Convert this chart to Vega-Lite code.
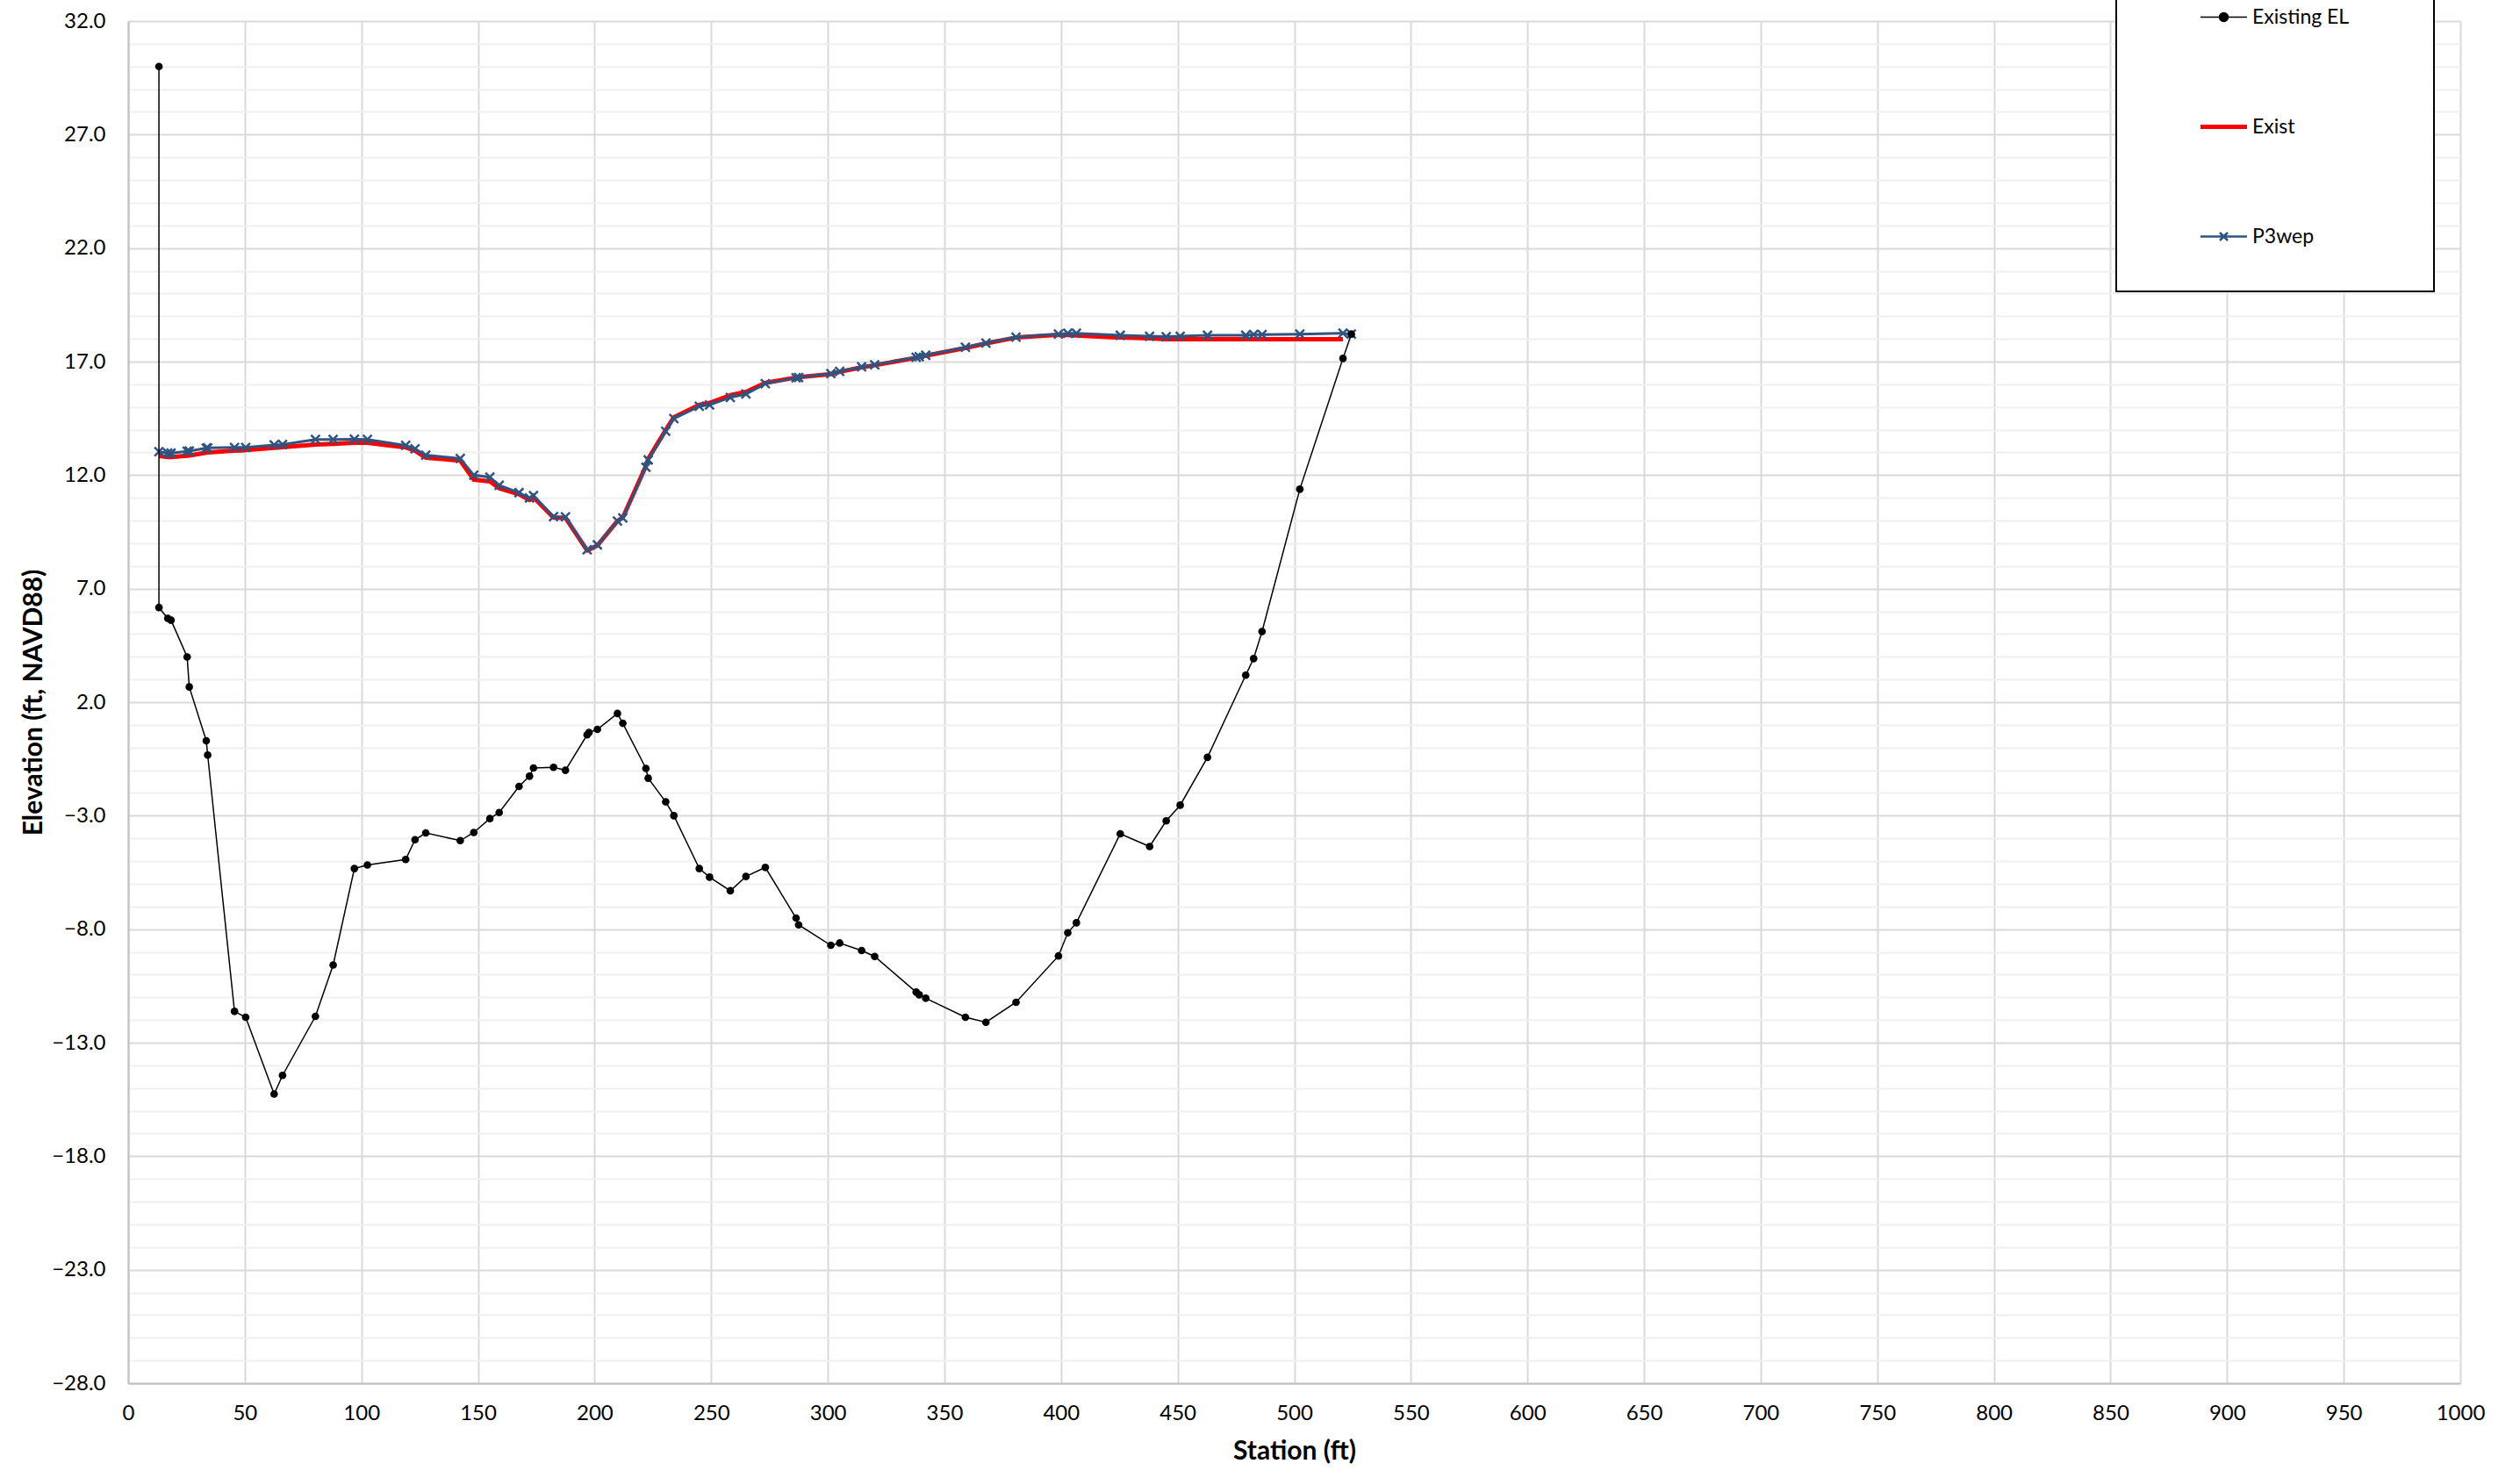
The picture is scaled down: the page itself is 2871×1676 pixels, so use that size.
{
  "$schema": "https://vega.github.io/schema/vega-lite/v6.json",
  "width": 2657,
  "height": 1552,
  "autosize": {"type": "none"},
  "padding": {"left": 146, "top": 24, "right": 68, "bottom": 100},
  "background": "white",
  "config": {"view": {"stroke": null}, "font": "Lato"},
  "datasets": {
    "el": [
      {"series": "Existing EL", "seq": 0, "station": 13.2, "elev": 30.0},
      {"series": "Existing EL", "seq": 1, "station": 13.2, "elev": 6.17},
      {"series": "Existing EL", "seq": 2, "station": 17.0, "elev": 5.69},
      {"series": "Existing EL", "seq": 3, "station": 18.4, "elev": 5.61},
      {"series": "Existing EL", "seq": 4, "station": 25.3, "elev": 3.99},
      {"series": "Existing EL", "seq": 5, "station": 26.2, "elev": 2.67},
      {"series": "Existing EL", "seq": 6, "station": 33.5, "elev": 0.30},
      {"series": "Existing EL", "seq": 7, "station": 34.1, "elev": -0.33},
      {"series": "Existing EL", "seq": 8, "station": 45.6, "elev": -11.62},
      {"series": "Existing EL", "seq": 9, "station": 50.4, "elev": -11.88},
      {"series": "Existing EL", "seq": 10, "station": 62.6, "elev": -15.26},
      {"series": "Existing EL", "seq": 11, "station": 66.2, "elev": -14.44},
      {"series": "Existing EL", "seq": 12, "station": 80.3, "elev": -11.84},
      {"series": "Existing EL", "seq": 13, "station": 87.9, "elev": -9.58},
      {"series": "Existing EL", "seq": 14, "station": 97.0, "elev": -5.33},
      {"series": "Existing EL", "seq": 15, "station": 102.6, "elev": -5.17},
      {"series": "Existing EL", "seq": 16, "station": 119.0, "elev": -4.93},
      {"series": "Existing EL", "seq": 17, "station": 123.0, "elev": -4.06},
      {"series": "Existing EL", "seq": 18, "station": 127.6, "elev": -3.76},
      {"series": "Existing EL", "seq": 19, "station": 142.4, "elev": -4.10},
      {"series": "Existing EL", "seq": 20, "station": 148.2, "elev": -3.74},
      {"series": "Existing EL", "seq": 21, "station": 155.1, "elev": -3.13},
      {"series": "Existing EL", "seq": 22, "station": 159.1, "elev": -2.86},
      {"series": "Existing EL", "seq": 23, "station": 167.6, "elev": -1.71},
      {"series": "Existing EL", "seq": 24, "station": 172.1, "elev": -1.26},
      {"series": "Existing EL", "seq": 25, "station": 173.8, "elev": -0.90},
      {"series": "Existing EL", "seq": 26, "station": 182.4, "elev": -0.87},
      {"series": "Existing EL", "seq": 27, "station": 187.5, "elev": -1.0},
      {"series": "Existing EL", "seq": 28, "station": 196.8, "elev": 0.56},
      {"series": "Existing EL", "seq": 29, "station": 197.6, "elev": 0.66},
      {"series": "Existing EL", "seq": 30, "station": 201.2, "elev": 0.80},
      {"series": "Existing EL", "seq": 31, "station": 209.8, "elev": 1.50},
      {"series": "Existing EL", "seq": 32, "station": 212.1, "elev": 1.07},
      {"series": "Existing EL", "seq": 33, "station": 222.0, "elev": -0.92},
      {"series": "Existing EL", "seq": 34, "station": 223.0, "elev": -1.35},
      {"series": "Existing EL", "seq": 35, "station": 230.5, "elev": -2.39},
      {"series": "Existing EL", "seq": 36, "station": 234.0, "elev": -3.0},
      {"series": "Existing EL", "seq": 37, "station": 244.9, "elev": -5.33},
      {"series": "Existing EL", "seq": 38, "station": 249.3, "elev": -5.71},
      {"series": "Existing EL", "seq": 39, "station": 258.2, "elev": -6.31},
      {"series": "Existing EL", "seq": 40, "station": 264.9, "elev": -5.68},
      {"series": "Existing EL", "seq": 41, "station": 273.2, "elev": -5.28},
      {"series": "Existing EL", "seq": 42, "station": 286.4, "elev": -7.51},
      {"series": "Existing EL", "seq": 43, "station": 287.5, "elev": -7.81},
      {"series": "Existing EL", "seq": 44, "station": 301.3, "elev": -8.71},
      {"series": "Existing EL", "seq": 45, "station": 305.1, "elev": -8.61},
      {"series": "Existing EL", "seq": 46, "station": 314.5, "elev": -8.94},
      {"series": "Existing EL", "seq": 47, "station": 320.1, "elev": -9.20},
      {"series": "Existing EL", "seq": 48, "station": 337.9, "elev": -10.77},
      {"series": "Existing EL", "seq": 49, "station": 339.2, "elev": -10.89},
      {"series": "Existing EL", "seq": 50, "station": 342.0, "elev": -11.04},
      {"series": "Existing EL", "seq": 51, "station": 359.0, "elev": -11.88},
      {"series": "Existing EL", "seq": 52, "station": 367.8, "elev": -12.10},
      {"series": "Existing EL", "seq": 53, "station": 380.7, "elev": -11.22},
      {"series": "Existing EL", "seq": 54, "station": 398.9, "elev": -9.18},
      {"series": "Existing EL", "seq": 55, "station": 402.9, "elev": -8.16},
      {"series": "Existing EL", "seq": 56, "station": 406.6, "elev": -7.72},
      {"series": "Existing EL", "seq": 57, "station": 425.4, "elev": -3.80},
      {"series": "Existing EL", "seq": 58, "station": 438.0, "elev": -4.36},
      {"series": "Existing EL", "seq": 59, "station": 445.1, "elev": -3.23},
      {"series": "Existing EL", "seq": 60, "station": 451.1, "elev": -2.54},
      {"series": "Existing EL", "seq": 61, "station": 462.8, "elev": -0.43},
      {"series": "Existing EL", "seq": 62, "station": 479.2, "elev": 3.19},
      {"series": "Existing EL", "seq": 63, "station": 482.6, "elev": 3.92},
      {"series": "Existing EL", "seq": 64, "station": 486.2, "elev": 5.11},
      {"series": "Existing EL", "seq": 65, "station": 502.4, "elev": 11.38},
      {"series": "Existing EL", "seq": 66, "station": 520.9, "elev": 17.14},
      {"series": "Existing EL", "seq": 67, "station": 524.5, "elev": 18.21}
    ],
    "p3": [
      {"series": "P3wep", "station": 13.2, "elev": 13.03},
      {"series": "P3wep", "station": 17.0, "elev": 12.97},
      {"series": "P3wep", "station": 18.4, "elev": 12.97},
      {"series": "P3wep", "station": 25.3, "elev": 13.05},
      {"series": "P3wep", "station": 26.2, "elev": 13.06},
      {"series": "P3wep", "station": 33.5, "elev": 13.19},
      {"series": "P3wep", "station": 34.1, "elev": 13.2},
      {"series": "P3wep", "station": 45.6, "elev": 13.22},
      {"series": "P3wep", "station": 50.4, "elev": 13.22},
      {"series": "P3wep", "station": 62.6, "elev": 13.33},
      {"series": "P3wep", "station": 66.2, "elev": 13.35},
      {"series": "P3wep", "station": 80.3, "elev": 13.57},
      {"series": "P3wep", "station": 87.9, "elev": 13.57},
      {"series": "P3wep", "station": 97.0, "elev": 13.58},
      {"series": "P3wep", "station": 102.6, "elev": 13.57},
      {"series": "P3wep", "station": 119.0, "elev": 13.31},
      {"series": "P3wep", "station": 123.0, "elev": 13.16},
      {"series": "P3wep", "station": 127.6, "elev": 12.88},
      {"series": "P3wep", "station": 142.4, "elev": 12.73},
      {"series": "P3wep", "station": 148.2, "elev": 12.0},
      {"series": "P3wep", "station": 155.1, "elev": 11.91},
      {"series": "P3wep", "station": 159.1, "elev": 11.55},
      {"series": "P3wep", "station": 167.6, "elev": 11.23},
      {"series": "P3wep", "station": 172.1, "elev": 10.99},
      {"series": "P3wep", "station": 173.8, "elev": 11.1},
      {"series": "P3wep", "station": 182.4, "elev": 10.17},
      {"series": "P3wep", "station": 187.5, "elev": 10.16},
      {"series": "P3wep", "station": 196.8, "elev": 8.71},
      {"series": "P3wep", "station": 201.2, "elev": 8.93},
      {"series": "P3wep", "station": 209.8, "elev": 9.98},
      {"series": "P3wep", "station": 212.1, "elev": 10.11},
      {"series": "P3wep", "station": 222.0, "elev": 12.35},
      {"series": "P3wep", "station": 223.0, "elev": 12.67},
      {"series": "P3wep", "station": 230.5, "elev": 13.93},
      {"series": "P3wep", "station": 234.0, "elev": 14.49},
      {"series": "P3wep", "station": 244.9, "elev": 15.03},
      {"series": "P3wep", "station": 249.3, "elev": 15.09},
      {"series": "P3wep", "station": 258.2, "elev": 15.42},
      {"series": "P3wep", "station": 264.9, "elev": 15.57},
      {"series": "P3wep", "station": 273.2, "elev": 16.03},
      {"series": "P3wep", "station": 286.4, "elev": 16.29},
      {"series": "P3wep", "station": 287.5, "elev": 16.3},
      {"series": "P3wep", "station": 301.3, "elev": 16.47},
      {"series": "P3wep", "station": 305.1, "elev": 16.57},
      {"series": "P3wep", "station": 314.5, "elev": 16.77},
      {"series": "P3wep", "station": 320.1, "elev": 16.86},
      {"series": "P3wep", "station": 337.9, "elev": 17.19},
      {"series": "P3wep", "station": 339.2, "elev": 17.22},
      {"series": "P3wep", "station": 342.0, "elev": 17.28},
      {"series": "P3wep", "station": 359.0, "elev": 17.63},
      {"series": "P3wep", "station": 367.8, "elev": 17.82},
      {"series": "P3wep", "station": 380.7, "elev": 18.08},
      {"series": "P3wep", "station": 398.9, "elev": 18.21},
      {"series": "P3wep", "station": 402.9, "elev": 18.25},
      {"series": "P3wep", "station": 406.6, "elev": 18.25},
      {"series": "P3wep", "station": 425.4, "elev": 18.16},
      {"series": "P3wep", "station": 438.0, "elev": 18.12},
      {"series": "P3wep", "station": 445.1, "elev": 18.1},
      {"series": "P3wep", "station": 451.1, "elev": 18.12},
      {"series": "P3wep", "station": 462.8, "elev": 18.16},
      {"series": "P3wep", "station": 479.2, "elev": 18.16},
      {"series": "P3wep", "station": 482.6, "elev": 18.19},
      {"series": "P3wep", "station": 486.2, "elev": 18.19},
      {"series": "P3wep", "station": 502.4, "elev": 18.21},
      {"series": "P3wep", "station": 520.9, "elev": 18.25},
      {"series": "P3wep", "station": 524.5, "elev": 18.21}
    ],
    "exist": [
      {"series": "Exist", "station": 13.2, "elev": 12.84},
      {"series": "Exist", "station": 17.0, "elev": 12.8},
      {"series": "Exist", "station": 18.4, "elev": 12.8},
      {"series": "Exist", "station": 25.3, "elev": 12.85},
      {"series": "Exist", "station": 26.2, "elev": 12.86},
      {"series": "Exist", "station": 33.5, "elev": 12.99},
      {"series": "Exist", "station": 34.1, "elev": 13.0},
      {"series": "Exist", "station": 45.6, "elev": 13.08},
      {"series": "Exist", "station": 50.4, "elev": 13.1},
      {"series": "Exist", "station": 62.6, "elev": 13.2},
      {"series": "Exist", "station": 66.2, "elev": 13.23},
      {"series": "Exist", "station": 80.3, "elev": 13.35},
      {"series": "Exist", "station": 87.9, "elev": 13.38},
      {"series": "Exist", "station": 97.0, "elev": 13.42},
      {"series": "Exist", "station": 102.6, "elev": 13.42},
      {"series": "Exist", "station": 119.0, "elev": 13.22},
      {"series": "Exist", "station": 123.0, "elev": 13.07},
      {"series": "Exist", "station": 127.6, "elev": 12.77},
      {"series": "Exist", "station": 142.4, "elev": 12.64},
      {"series": "Exist", "station": 148.2, "elev": 11.8},
      {"series": "Exist", "station": 155.1, "elev": 11.72},
      {"series": "Exist", "station": 159.1, "elev": 11.42},
      {"series": "Exist", "station": 167.6, "elev": 11.16},
      {"series": "Exist", "station": 172.1, "elev": 10.9},
      {"series": "Exist", "station": 173.8, "elev": 11.03},
      {"series": "Exist", "station": 182.4, "elev": 10.13},
      {"series": "Exist", "station": 187.5, "elev": 10.12},
      {"series": "Exist", "station": 196.8, "elev": 8.68},
      {"series": "Exist", "station": 201.2, "elev": 8.9},
      {"series": "Exist", "station": 209.8, "elev": 9.98},
      {"series": "Exist", "station": 212.1, "elev": 10.13},
      {"series": "Exist", "station": 222.0, "elev": 12.4},
      {"series": "Exist", "station": 223.0, "elev": 12.72},
      {"series": "Exist", "station": 230.5, "elev": 13.98},
      {"series": "Exist", "station": 234.0, "elev": 14.55},
      {"series": "Exist", "station": 244.9, "elev": 15.1},
      {"series": "Exist", "station": 249.3, "elev": 15.18},
      {"series": "Exist", "station": 258.2, "elev": 15.52},
      {"series": "Exist", "station": 264.9, "elev": 15.67},
      {"series": "Exist", "station": 273.2, "elev": 16.06},
      {"series": "Exist", "station": 286.4, "elev": 16.3},
      {"series": "Exist", "station": 287.5, "elev": 16.31},
      {"series": "Exist", "station": 301.3, "elev": 16.45},
      {"series": "Exist", "station": 305.1, "elev": 16.55},
      {"series": "Exist", "station": 314.5, "elev": 16.75},
      {"series": "Exist", "station": 320.1, "elev": 16.84},
      {"series": "Exist", "station": 337.9, "elev": 17.17},
      {"series": "Exist", "station": 339.2, "elev": 17.2},
      {"series": "Exist", "station": 342.0, "elev": 17.26},
      {"series": "Exist", "station": 359.0, "elev": 17.6},
      {"series": "Exist", "station": 367.8, "elev": 17.8},
      {"series": "Exist", "station": 380.7, "elev": 18.06},
      {"series": "Exist", "station": 398.9, "elev": 18.18},
      {"series": "Exist", "station": 402.9, "elev": 18.17},
      {"series": "Exist", "station": 406.6, "elev": 18.15},
      {"series": "Exist", "station": 425.4, "elev": 18.06},
      {"series": "Exist", "station": 438.0, "elev": 18.02},
      {"series": "Exist", "station": 445.1, "elev": 17.99},
      {"series": "Exist", "station": 451.1, "elev": 17.99},
      {"series": "Exist", "station": 462.8, "elev": 17.99},
      {"series": "Exist", "station": 479.2, "elev": 17.99},
      {"series": "Exist", "station": 482.6, "elev": 17.99},
      {"series": "Exist", "station": 486.2, "elev": 17.99},
      {"series": "Exist", "station": 502.4, "elev": 17.99},
      {"series": "Exist", "station": 520.9, "elev": 17.99}
    ]
  },
  "encoding": {
    "x": {
      "field": "station", "type": "quantitative",
      "scale": {"domain": [0, 1000], "nice": false, "zero": false},
      "axis": {
        "values": [0,50,100,150,200,250,300,350,400,450,500,550,600,650,700,750,800,850,900,950,1000],
        "format": "d",
        "title": "Station (ft)",
        "titleFont": "Lato", "titleFontSize": 30, "titleFontWeight": "bold", "titleColor": "black", "titlePadding": 16,
        "labelFont": "Lato", "labelFontSize": 24, "labelColor": "black", "labelPadding": 22, "labelFlush": false, "labelOverlap": false,
        "ticks": false,
        "domainColor": "#bfbfbf", "domainWidth": 2,
        "grid": true, "gridColor": "#d9d9d9", "gridWidth": 2
      }
    },
    "y": {
      "field": "elev", "type": "quantitative",
      "scale": {"domain": [-28, 32], "nice": false, "zero": false},
      "axis": {
        "values": [-28,-27,-26,-25,-24,-23,-22,-21,-20,-19,-18,-17,-16,-15,-14,-13,-12,-11,-10,-9,-8,-7,-6,-5,-4,-3,-2,-1,0,1,2,3,4,5,6,7,8,9,10,11,12,13,14,15,16,17,18,19,20,21,22,23,24,25,26,27,28,29,30,31,32],
        "labelExpr": "(datum.value + 28) % 5 === 0 ? format(datum.value, '.1f') : ''",
        "title": "Elevation (ft, NAVD88)",
        "titleFont": "Lato", "titleFontSize": 30, "titleFontWeight": "bold", "titleColor": "black", "titlePadding": 5,
        "labelFont": "Lato", "labelFontSize": 24, "labelColor": "black", "labelPadding": 26, "labelFlush": false, "labelOverlap": false,
        "ticks": false,
        "domainColor": "#bfbfbf", "domainWidth": 2,
        "grid": true,
        "gridColor": {"condition": {"test": "(datum.value + 28) % 5 === 0", "value": "#d9d9d9"}, "value": "#f0f0f0"},
        "gridWidth": 2
      }
    },
    "color": {
      "field": "series", "type": "nominal",
      "scale": {"domain": ["Existing EL", "Exist", "P3wep"], "range": ["#000000", "#ff0000", "#305480"]},
      "legend": {
        "orient": "none", "legendX": 2265, "legendY": -66,
        "title": null, "direction": "vertical",
        "padding": 50, "strokeColor": "#000000", "fillColor": "#ffffff",
        "labelFont": "Lato", "labelFontSize": 23, "labelColor": "black", "labelLimit": 400,
        "labelExpr": "datum.label === 'Existing EL' ? datum.label + '\u00a0\u00a0\u00a0\u00a0\u00a0\u00a0\u00a0\u00a0\u200b' : datum.label",
        "symbolOffset": 61, "labelOffset": 21, "rowPadding": 101,
        "symbolSize": 2809, "symbolStrokeWidth": 2,
        "encode": {
          "legend": {"update": {"strokeWidth": {"value": 2}}},
          "symbols": {"update": {
            "shape": {"signal": "datum.value === 'Existing EL' ? 'M-1,0H1M-0.19,0A0.19,0.19 0 1,0 0.19,0A0.19,0.19 0 1,0 -0.19,0Z' : datum.value === 'Exist' ? 'M-1,0H1' : 'M-1,0H1M-0.17,-0.17L0.17,0.17M-0.17,0.17L0.17,-0.17'"},
            "fill": {"signal": "datum.value === 'Existing EL' ? '#000000' : 'transparent'"},
            "stroke": {"signal": "datum.value === 'Existing EL' ? '#000000' : datum.value === 'Exist' ? '#ff0000' : '#305480'"},
            "strokeWidth": {"signal": "datum.value === 'Exist' ? 5 : datum.value === 'P3wep' ? 2.5 : 1.5"},
            "size": {"value": 2809},
            "opacity": {"value": 1}
          }}
        }
      }
    }
  },
  "layer": [
    {"data": {"name": "exist"}, "mark": {"type": "line", "strokeWidth": 5, "strokeJoin": "round"}},
    {"data": {"name": "p3"}, "mark": {"type": "line", "strokeWidth": 3}},
    {"data": {"name": "p3"}, "mark": {"type": "point", "shape": "M-1,-1L1,1M-1,1L1,-1", "filled": false, "size": 100, "strokeWidth": 2.5, "opacity": 1}},
    {"data": {"name": "el"}, "mark": {"type": "line", "strokeWidth": 1.5}, "encoding": {"order": {"field": "seq", "type": "quantitative"}}},
    {"data": {"name": "el"}, "mark": {"type": "point", "shape": "circle", "filled": true, "size": 75, "opacity": 1}}
  ]
}
